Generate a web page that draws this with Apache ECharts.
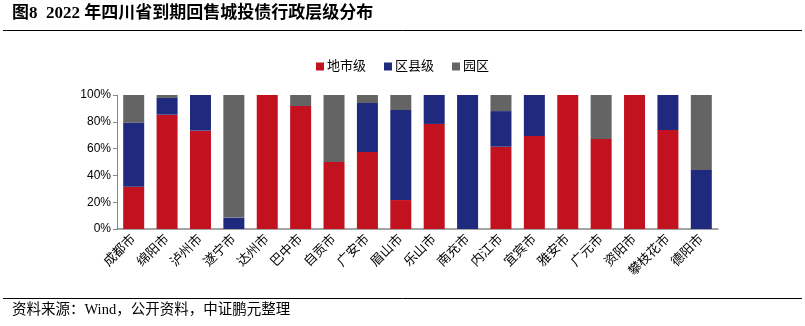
<!DOCTYPE html>
<html>
<head>
<meta charset="utf-8">
<script src="https://cdn.jsdelivr.net/npm/echarts@6/dist/echarts.min.js"></script>
<style>
  html, body { margin: 0; padding: 0; background: #fff; }
  #chart { width: 805px; height: 326px; }
</style>
</head>
<body>
<div id="chart"></div>
<script>
// Cities along the category axis
const cities = ['成都市', '绵阳市', '泸州市', '遂宁市', '达州市', '巴中市', '自贡市', '广安市', '眉山市',
  '乐山市', '南充市', '内江市', '宜宾市', '雅安市', '广元市', '资阳市', '攀枝花市', '德阳市'];

// Share of bonds by administrative level (%)
const cityLevel = [31.5, 85.3, 73.4, 0, 100, 91.8, 50, 57.5, 21.6, 78.4, 0, 61.4, 69.4, 100, 67.2, 100, 73.9, 0];
const countyLevel = [47.9, 12.5, 26.6, 8.5, 0, 0, 0, 36.5, 67.2, 21.6, 100, 26.6, 30.6, 0, 0, 0, 26.1, 44];
const parkLevel = [20.6, 2.2, 0, 91.5, 0, 8.2, 50, 6, 11.2, 0, 0, 12, 0, 0, 32.8, 0, 0, 56];

const seriesNames = ['地市级', '区县级', '园区'];
const yTicks = [0, 20, 40, 60, 80, 100];

const chart = echarts.init(document.getElementById('chart'), null, { renderer: 'canvas' });

const cjk = '"Liberation Sans", "Noto Sans CJK SC", sans-serif';

chart.setOption({
  animation: false,
  backgroundColor: '#fff',
  color: ['#C3121F', '#1F2A7F', '#646464'],
  legend: {
    data: seriesNames,
    top: 55,
    left: 'center',
    itemWidth: 8,
    itemHeight: 8,
    itemGap: 18,
    icon: 'rect',
    textStyle: { fontFamily: cjk, fontSize: 13, color: '#000', padding: [0, 0, 0, -2] }
  },
  grid: { left: 117, right: 87, top: 95, bottom: 97 },
  xAxis: {
    type: 'category',
    data: cities,
    axisLine: { lineStyle: { color: '#888', width: 1.5 } },
    axisTick: { show: false },
    axisLabel: {
      rotate: 45,
      interval: 0,
      margin: 8,
      fontFamily: cjk,
      fontSize: 13,
      color: '#000'
    }
  },
  yAxis: {
    type: 'value',
    min: yTicks[0],
    max: yTicks[yTicks.length - 1],
    interval: 20,
    splitLine: { show: false },
    axisLine: { show: true, lineStyle: { color: '#888', width: 1 } },
    axisTick: { show: true, length: 4, lineStyle: { color: '#888' } },
    axisLabel: {
      formatter: v => v + '%',
      fontFamily: '"Liberation Sans", Arial, sans-serif',
      fontSize: 12,
      color: '#000',
      margin: 6
    }
  },
  series: [cityLevel, countyLevel, parkLevel].map((d, i) => ({
    name: seriesNames[i],
    type: 'bar',
    stack: 'total',
    data: d,
    barWidth: 21
  })),
  graphic: [
    {
      type: 'text',
      left: 12,
      top: 5,
      style: {
        text: '图8  2022 年四川省到期回售城投债行政层级分布',
        font: 'bold 17px "Liberation Serif", "Noto Sans CJK SC", serif',
        fill: '#000'
      }
    },
    {
      type: 'line',
      shape: { x1: 3, y1: 30.5, x2: 802, y2: 30.5 },
      style: { stroke: '#000', lineWidth: 1 }
    },
    {
      type: 'line',
      shape: { x1: 3, y1: 298.5, x2: 802, y2: 298.5 },
      style: { stroke: '#000', lineWidth: 1 }
    },
    {
      type: 'text',
      left: 12,
      top: 303,
      style: {
        text: '资料来源：Wind，公开资料，中证鹏元整理',
        font: '14.5px "Liberation Serif", "Noto Sans CJK SC", serif',
        fill: '#000'
      }
    }
  ]
});
</script>
</body>
</html>
